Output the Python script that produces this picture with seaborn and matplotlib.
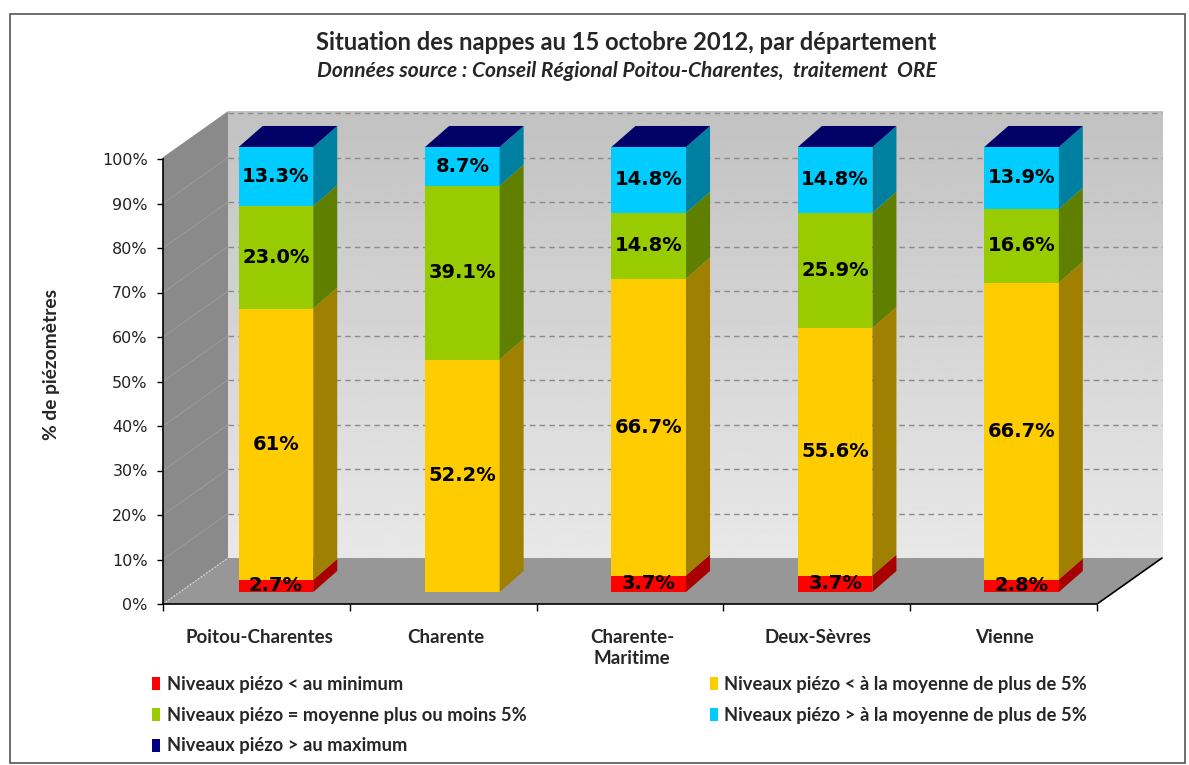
import numpy as np
import pandas as pd
import matplotlib
matplotlib.use("Agg")
import matplotlib.pyplot as plt
from matplotlib.patches import Polygon, Patch, Rectangle
from matplotlib import font_manager
import seaborn as sns

# ---------------- data ----------------
categories = ["Poitou-Charentes", "Charente", "Charente-\nMaritime", "Deux-Sèvres", "Vienne"]
series_names = [
    "Niveaux piézo < au minimum",
    "Niveaux piézo < à la moyenne de plus de 5%",
    "Niveaux piézo = moyenne plus ou moins 5%",
    "Niveaux piézo > à la moyenne de plus de 5%",
    "Niveaux piézo > au maximum",
]
below_min = [2.7, 0.0, 3.7, 3.7, 2.8]
below_mean = [61.0, 52.2, 66.7, 55.6, 66.7]
near_mean = [23.0, 39.1, 14.8, 25.9, 16.6]
above_mean = [13.3, 8.7, 14.8, 14.8, 13.9]
above_max = [0.0, 0.0, 0.0, 0.0, 0.0]
below_mean_labels = ["61%", "52.2%", "66.7%", "55.6%", "66.7%"]
y_ticks = [0, 10, 20, 30, 40, 50, 60, 70, 80, 90, 100]
y_tick_labels = ["0%", "10%", "20%", "30%", "40%", "50%", "60%", "70%", "80%", "90%", "100%"]

title = "Situation des nappes au 15 octobre 2012, par département"
subtitle = "Données source : Conseil Régional Poitou-Charentes,  traitement  ORE"
ylabel = "% de piézomètres"

# ---------------- style ----------------
front_colors = ["#ff0000", "#ffcc00", "#99cc00", "#00ccff", "#000080"]
side_colors = ["#a80000", "#a08000", "#5f7f00", "#0080a0", "#000050"]
top_color = "#000066"

sns.set_style("white")
avail = {f.name for f in font_manager.fontManager.ttflist}
CAL = "Lato" if "Lato" in avail else "DejaVu Sans"

W, H = 1189, 765
PX_CAT = 186.4
PX_PCT = 4.45
X0, X1 = -0.606, 4.405
DX = 65 / PX_CAT
DY = 46 / PX_PCT
BAR_Y0 = 2.7
BAR_W = 0.40
BDX = 24 / PX_CAT
BDY = 21 / PX_PCT
YMAX = 112
XMAX = X1 + DX + 0.03

fig = plt.figure(figsize=(W / 100, H / 100), dpi=100)
fig.patch.set_facecolor("white")
ax = fig.add_axes([163 / W, (H - 604) / H, (XMAX - X0) * PX_CAT / W, YMAX * PX_PCT / H])
ax.set_facecolor("none")

# ---------------- walls ----------------
grad = np.linspace(0.76, 0.91, 256).reshape(-1, 1)
ax.imshow(grad, cmap="gray", vmin=0, vmax=1, extent=(X0 + DX, X1 + DX, DY, DY + 100.4),
          aspect="auto", origin="upper", zorder=0)
for k in range(1, 11):
    ax.plot([X0 + DX, X1 + DX], [DY + 10 * k, DY + 10 * k], ls=(0, (4, 3)), color="#8a8a8a",
            lw=1.0, zorder=0.5)
ax.add_patch(Polygon([(X0, 0), (X0, 100.4), (X0 + DX, DY + 100.4), (X0 + DX, DY)],
                     closed=True, facecolor="#8a8a8a", edgecolor="none", zorder=0.6))
for k in range(1, 10):
    ax.plot([X0, X0 + DX], [10 * k, DY + 10 * k], color="#9a9a9a", lw=0.8, zorder=0.65)
ax.add_patch(Polygon([(X0, 0), (X1, 0), (X1 + DX, DY), (X0 + DX, DY)],
                     closed=True, facecolor="#979797", edgecolor="none", zorder=0.7))
ax.plot([X0, X0 + DX], [0, DY], color="#dddddd", lw=0.9, ls=":", zorder=0.75)
ax.plot([X1, X1 + DX], [0, DY], color="black", lw=1.2, zorder=0.75)

# ---------------- bars ----------------
series = [below_min, below_mean, near_mean, above_mean, above_max]
df = pd.DataFrame({"cat": categories})
cum = np.zeros(len(categories))
for s_idx, vals in enumerate(series):
    vals = np.asarray(vals, dtype=float)
    df["v"] = vals
    sns.barplot(data=df, x="cat", y="v", order=categories, color=front_colors[s_idx],
                saturation=1, width=BAR_W, bottom=cum + BAR_Y0, linewidth=0,
                edgecolor="none", ax=ax, zorder=3, errorbar=None)
    cont = ax.containers[-1]
    for i, v in enumerate(vals):
        xr = i + BAR_W / 2
        b = cum[i] + BAR_Y0
        if v > 0:
            ax.add_patch(Polygon([(xr, b), (xr + BDX, b + BDY), (xr + BDX, b + v + BDY), (xr, b + v)],
                                 closed=True, facecolor=side_colors[s_idx], edgecolor="none", zorder=3))
    if s_idx == 1:
        labels = [lab if v > 0 else "" for lab, v in zip(below_mean_labels, vals)]
    else:
        labels = [f"{v:.1f}%" if v > 0 else "" for v in vals]
    if s_idx < 4:
        ax.bar_label(cont, labels=labels, label_type="center", fontsize=14, fontweight="bold",
                     family="DejaVu Sans", color="black", zorder=6)
    cum = cum + vals

for i in range(len(categories)):
    t = cum[i] + BAR_Y0
    xl, xr = i - BAR_W / 2, i + BAR_W / 2
    ax.add_patch(Polygon([(xl, t), (xr, t), (xr + BDX, t + BDY), (xl + BDX, t + BDY)],
                         closed=True, facecolor=top_color, edgecolor="none", zorder=3))

# ---------------- axes ----------------
ax.set_xlim(X0, XMAX)
ax.set_ylim(0, YMAX)
for s in ["top", "right"]:
    ax.spines[s].set_visible(False)
ax.spines["left"].set_bounds(0, 100)
ax.spines["bottom"].set_bounds(X0, X1)
for s in ["left", "bottom"]:
    ax.spines[s].set_color("black")
    ax.spines[s].set_linewidth(1.2)
    ax.spines[s].set_zorder(4)

ax.set_yticks(y_ticks)
ax.set_yticklabels(y_tick_labels, family="DejaVu Sans", fontsize=11.5, color="#222222")
ax.tick_params(axis="y", direction="out", length=4, width=1, color="black", pad=7, left=True)

ax.set_xticks([i - 0.09 for i in range(len(categories))])
ax.set_xticklabels(categories, family=CAL, fontweight="bold", fontsize=13.5, linespacing=1.3,
                   va="top")
ax.set_xticks([X0 + i * (X1 - X0) / 5 for i in range(6)], minor=True)
ax.tick_params(axis="x", which="major", length=0, pad=18)
ax.tick_params(axis="x", which="minor", direction="out", length=5, width=1, color="black", bottom=True)
ax.set_xlabel("")
ax.set_ylabel(ylabel, family=CAL, fontweight="bold", fontsize=13.8)
ax.yaxis.set_label_coords(-0.103, 0.48)

# ---------------- titles ----------------
t1 = fig.text(626 / W, 1 - 42 / H, title, ha="center", va="center", family=CAL,
              fontweight="bold", fontsize=16)
t2 = fig.text(627 / W, 1 - 71 / H, subtitle, ha="center", va="center", family=CAL,
              fontweight="bold", style="italic", fontsize=12)
r = fig.canvas.get_renderer()
for t, target in [(t1, 622), (t2, 619)]:
    w = t.get_window_extent(renderer=r).width
    t.set_fontsize(t.get_fontsize() * target / w)

# ---------------- legend ----------------
order = [0, 2, 4, 1, 3]
handles = [Patch(facecolor=front_colors[j], edgecolor="none") for j in order]
names = [series_names[j] for j in order]
fig.legend(handles, names, loc="upper left", bbox_to_anchor=(152 / W, 1 - 676 / H), ncol=2,
           frameon=False, prop=dict(family=CAL, weight="bold", size=13.2), handlelength=0.45,
           handleheight=0.7, handletextpad=0.35, labelspacing=0.75, columnspacing=10.0,
           borderpad=0, borderaxespad=0)

fig.patches.append(Rectangle((10 / W, 2 / H), 1175 / W, 749 / H, transform=fig.transFigure,
                             fill=False, edgecolor="#555555", lw=1.2))

fig.savefig("out.png", dpi=100, facecolor="white")
